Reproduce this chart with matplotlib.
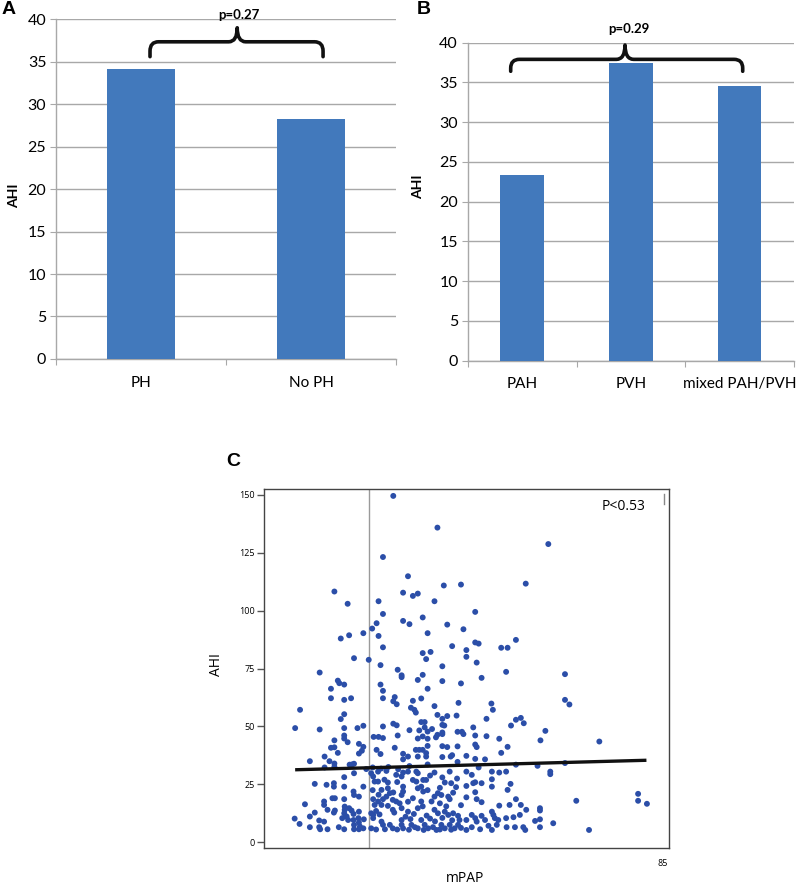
import matplotlib
matplotlib.use("Agg")
import matplotlib.pyplot as plt
from matplotlib.path import Path
from matplotlib.patches import PathPatch

# ---------------- data ----------------
a_categories = ["PH", "No PH"]
a_values = [34.1, 28.3]
a_pvalue = "p=0.27"

b_categories = ["PAH", "PVH", "mixed PAH/PVH"]
b_values = [23.3, 37.5, 34.6]
b_pvalue = "p=0.29"

bar_yticks = [0, 5, 10, 15, 20, 25, 30, 35, 40]

# scatter: (mPAP, AHI)
scatter_upper = [
    (30.0,149.6),(39.0,135.9),(61.6,128.8),(27.9,123.2),(33.0,114.9),(57.0,111.7),(43.8,111.3),(40.3,110.9),
    (18.0,108.3),(32.0,107.8),(35.0,107.4),(34.0,106.4),(27.0,104.1),(38.4,104.1),(20.7,103.0),(27.9,98.6),
    (46.7,99.5),(36.0,97.1),(32.0,95.6),(26.6,94.6),(33.3,94.2),(41.0,94.0),(25.7,92.3),(44.3,92.0),
    (23.9,90.3),(37.0,90.3),(21.0,89.4),(27.0,89.1),(19.3,88.0),(55.0,87.4),(46.7,86.3),(47.4,85.8),
    (42.0,84.7),(27.9,84.2),(52.0,84.0),(53.3,84.0),(44.9,83.0),(37.6,82.2),(36.0,81.7),(44.9,80.1),
    (22.0,79.5),(36.7,79.1),(25.0,78.8),(47.0,77.6),(27.4,76.5),(40.0,76.0),(30.9,74.5),(53.0,73.6),
    (15.0,73.3),(65.0,72.6),(31.7,72.1),(31.7,71.3),(36.0,72.3),(48.0,71.0),(35.0,70.1),(18.7,69.8),
    (19.0,68.7),(20.0,68.1),(40.0,69.6),(27.4,68.1),(43.8,68.6),(17.3,66.3),(37.0,66.3),(27.9,65.4),
    (17.3,62.2),(21.4,62.2),(27.9,62.2),(30.3,62.7),(35.7,62.1),(20.0,61.5),(65.0,61.5),(30.0,60.9),
    (34.0,61.1),(30.7,59.6),(43.3,60.2),(50.0,59.9),(65.9,59.5),(38.4,58.8),(33.6,58.1),(34.3,57.2),
    (11.0,57.2),(50.3,57.2),(34.6,56.0),(20.0,55.3),(39.0,55.0),(41.0,54.5),(42.9,54.7),(56.0,53.7),
    (19.3,53.2),(40.0,53.3),(49.0,53.3),(55.0,52.9),(35.7,51.9),(36.4,51.9),(56.6,51.4),(30.0,51.2),
    (30.7,50.5),(40.0,50.7),(40.4,50.4),(54.0,50.4),(27.9,50.0),(23.9,50.3),(10.0,49.3),(20.0,49.3),
    (22.7,49.3),(36.4,49.6),(46.3,49.6),(15.0,48.7),(37.9,48.9),(33.3,48.4),(35.3,48.3),(61.0,48.1),
    (43.1,47.7),(44.0,47.7),(37.0,47.8),(40.0,47.4),(40.0,46.7),(44.3,46.7),(39.0,46.4),(20.0,46.1),
    (46.7,46.1),(30.9,46.1),(49.0,45.8),(36.0,45.7),(26.0,45.5),(27.0,45.5),(27.9,45.0),(38.7,45.3),
    (20.0,44.8),(35.0,44.8),(37.0,44.7),(51.6,44.7),(18.0,44.0),(60.0,44.0),(72.0,43.5),(20.7,43.2),
    (23.0,42.5),(46.7,42.2),(37.0,41.6),(40.0,41.5),(41.0,41.1),(43.1,41.4),(47.0,41.1),(53.3,41.2),
    (17.3,40.8),(18.0,41.0),(23.9,41.2),(30.3,40.8),(26.6,39.9),(34.6,39.9),(35.3,39.9),(36.0,39.9),
    (23.6,39.5),(18.7,38.6),(23.0,38.3),(27.4,38.1),(32.0,38.2),(36.7,38.5),(52.0,38.6),(42.0,37.6),
    (41.7,37.0),(16.0,37.0),(33.0,37.0),(35.0,37.0),(36.7,37.0),(40.0,36.8),(44.9,37.3),(46.7,36.0),
    (48.7,35.8),(32.0,35.8),(13.0,35.0),(17.0,35.0),(43.1,34.7),(18.0,34.0),(37.0,33.6),(21.1,33.5),
    (21.6,33.6),(22.0,33.9),(55.0,33.5),(59.4,33.0),(65.0,34.2),(16.0,32.3),(18.0,32.6),(33.3,32.9),
    (47.4,32.3),(25.8,32.3),(27.5,31.8),(29.0,32.5),(31.0,31.5),(24.5,31.6),
]
scatter_left_low = [
    (22.0,29.8),(20.0,28.1),(14.0,25.2),(16.4,24.8),(17.9,25.5),(17.9,24.0),(20.0,24.0),(23.9,24.0),
    (21.9,21.9),(22.0,20.4),(23.0,19.7),(17.6,19.0),(18.1,19.0),(20.0,18.6),(15.9,17.6),(15.9,16.1),
    (12.0,16.4),(16.6,14.0),(18.1,13.7),(17.9,12.8),(20.1,15.4),(20.1,14.0),(20.0,12.5),(21.5,13.7),
    (21.9,12.2),(23.0,13.2),(14.0,12.8),(13.0,11.1),(9.9,10.2),(10.9,7.9),(14.9,9.4),(15.9,8.9),
    (13.0,6.5),(14.9,6.5),(15.1,5.6),(16.6,5.6),(18.9,6.5),(20.0,5.6),(19.6,10.4),(20.5,11.1),
    (20.8,9.6),(21.9,9.6),(22.0,7.5),(22.0,5.6),(22.9,10.4),(23.0,8.5),(23.2,6.8),(23.9,6.0),
    (23.0,5.6),(24.0,9.9),(21.0,14.7),
]
scatter_mid_low = [
    (25.5,29.8),(26.9,30.5),(28.6,30.8),(30.6,29.1),(32.0,30.1),(33.0,30.5),(34.7,30.5),(35.0,29.8),
    (38.4,30.1),(41.5,30.5),(44.9,30.5),(25.9,28.4),(26.2,26.2),(26.9,26.2),(28.9,25.8),(31.7,28.4),
    (34.0,26.9),(34.7,26.2),(36.1,26.9),(36.7,26.9),(35.7,24.0),(40.5,25.8),(41.8,25.5),(44.9,24.3),
    (27.6,22.6),(28.9,23.3),(29.3,21.2),(32.0,24.0),(32.0,21.9),(31.7,20.4),(35.0,23.3),(36.1,21.9),
    (39.1,21.2),(39.8,20.4),(41.2,19.7),(42.2,21.4),(38.4,19.7),(25.9,18.6),(26.9,17.6),(27.9,18.6),
    (28.6,19.7),(29.9,18.3),(30.6,17.6),(31.3,16.8),(26.2,16.1),(27.6,16.1),(28.9,15.7),(35.7,17.6),
    (37.8,17.6),(39.5,16.8),(41.5,18.6),(44.9,19.4),(29.9,14.0),(31.7,14.7),(33.0,13.2),(35.0,14.7),
    (38.4,14.0),(39.1,12.5),(40.5,13.2),(41.2,11.8),(42.2,12.5),(43.2,11.4),(25.5,12.5),(25.9,11.8),
    (27.6,8.9),(27.9,7.5),(29.3,7.5),(29.9,6.0),(31.7,9.6),(31.7,7.5),(32.0,6.0),(33.7,7.5),
    (34.4,6.5),(35.0,6.0),(35.7,9.6),(36.4,7.5),(37.1,6.0),(38.1,6.5),(38.8,5.3),(39.8,7.5),
    (40.5,6.0),(41.5,7.5),(42.5,6.0),(43.5,9.6),(43.2,7.5),(44.9,9.6),(44.9,5.3),(25.5,6.0),
    (25.9,10.4),(26.5,13.5),(27.2,12.0),(30.2,12.8),(32.5,11.0),(33.5,10.0),(34.2,12.2),(36.8,11.5),
    (37.5,10.2),(38.5,9.0),(40.0,10.5),(42.0,9.5),(36.0,15.5),(33.0,17.5),(30.0,21.5),(27.0,20.5),
    (25.8,22.5),(43.8,16.0),(40.8,15.5),(37.0,22.5),(34.0,19.0),(39.5,23.5),(42.8,23.8),(28.2,27.0),
    (30.8,26.0),(37.5,28.8),(40.0,28.0),(43.0,27.5),(26.5,5.5),(28.3,5.6),(30.8,5.5),(33.2,5.4),
    (36.2,5.3),(39.5,5.5),(41.8,5.4),(43.8,6.2),
]
scatter_right_low = [
    (46.0,29.1),(50.1,30.5),(51.6,30.1),(53.0,30.5),(62.0,30.5),(62.0,29.4),(50.1,27.2),(46.3,25.5),
    (46.7,25.9),(48.0,25.5),(50.1,24.0),(53.9,25.2),(53.3,22.6),(46.7,21.6),(47.0,18.6),(48.0,17.3),
    (55.0,18.6),(51.6,15.8),(53.7,16.1),(56.0,16.1),(57.1,14.0),(59.9,14.7),(59.9,13.7),(46.0,11.8),
    (46.7,10.4),(47.0,8.9),(48.0,11.4),(48.7,9.6),(50.1,13.2),(50.4,11.8),(50.7,10.4),(51.4,9.6),
    (53.0,10.4),(54.5,10.8),(55.8,11.8),(58.9,9.2),(59.9,9.9),(62.6,8.2),(46.0,6.5),(47.7,5.6),
    (49.4,7.1),(50.1,5.3),(51.1,7.5),(53.1,6.5),(54.8,6.5),(56.5,6.5),(56.9,5.3),(59.9,6.5),
    (67.3,17.9),(79.9,20.9),(79.9,17.9),(81.7,16.6),(69.9,5.3),
]
scatter_points = scatter_upper + scatter_left_low + scatter_mid_low + scatter_right_low
mpap = [p[0] for p in scatter_points]
ahi = [p[1] for p in scatter_points]

fit_mpap = [10.0, 81.6]
fit_ahi = [31.3, 35.4]
ph_threshold = 25
c_yticks = [0, 25, 50, 75, 100, 125, 150]
c_xticks = [85]
c_pvalue = "P<0.53"

# ---------------- style ----------------
BAR_COLOR = "#4279bc"
GRID = "#a8a8a8"
DOT = "#2b4ea8"
plt.rcParams["font.family"] = ["Lato", "DejaVu Sans"]

fig = plt.figure(figsize=(7.99, 8.85), dpi=100)


def brace(ax, x0, x1, xm, yh, ye, ytip, rx, ry, lw=2.6):
    verts = [(x0, ye), (x0, yh - ry), (x0, yh), (x0 + rx, yh),
             (xm - rx, yh), (xm, yh), (xm, ytip), (xm, yh), (xm + rx, yh),
             (x1 - rx, yh), (x1, yh), (x1, yh - ry), (x1, ye)]
    codes = [Path.MOVETO, Path.LINETO, Path.CURVE3, Path.CURVE3,
             Path.LINETO, Path.CURVE3, Path.CURVE3, Path.CURVE3, Path.CURVE3,
             Path.LINETO, Path.CURVE3, Path.CURVE3, Path.LINETO]
    patch = PathPatch(Path(verts, codes), fill=False, lw=lw, edgecolor="#111111",
                      clip_on=False, capstyle="round", joinstyle="round", zorder=5)
    ax.add_patch(patch)


def bar_panel(ax, cats, vals):
    n = len(cats)
    x = list(range(n))
    ax.bar(x, vals, width=0.4, color=BAR_COLOR, zorder=3)
    ax.set_xlim(-0.5, n - 0.5)
    ax.set_ylim(0, 40)
    ax.set_yticks(bar_yticks)
    ax.yaxis.grid(True, color=GRID, lw=1.0, zorder=0)
    for s in ["top", "right"]:
        ax.spines[s].set_visible(False)
    ax.spines["left"].set_color(GRID)
    ax.spines["bottom"].set_color(GRID)
    ax.spines["left"].set_linewidth(1.0)
    ax.spines["bottom"].set_linewidth(1.0)
    ax.set_xticks([i - 0.5 for i in range(n + 1)])
    ax.set_xticklabels([])
    ax.set_xticks(x, minor=True)
    ax.set_xticklabels(cats, minor=True, fontsize=11)
    ax.tick_params(axis="x", which="major", length=4, color=GRID, direction="out")
    ax.tick_params(axis="x", which="minor", length=0, pad=12)
    ax.tick_params(axis="y", length=4, color=GRID, labelsize=11.5, pad=3)
    ax.set_ylabel("AHI", fontsize=10, fontweight="bold")


# Panel A
axA = fig.add_axes([0.0701, 0.5944, 0.4255, 0.3838])
bar_panel(axA, a_categories, a_values)
axA.yaxis.set_label_coords(-0.105, 0.48)
brace(axA, 0.053, 1.071, 0.566, 37.35, 35.6, 39.0, 0.05, 1.1)
axA.text(0.576, 40.5, a_pvalue, ha="center", va="center", fontsize=9.5, fontweight="bold")
fig.text(0.0106, 0.9898, "A", fontsize=14, fontweight="bold", ha="center", va="center",
         family=["Liberation Sans", "DejaVu Sans"])

# Panel B
axB = fig.add_axes([0.5854, 0.5924, 0.4084, 0.3594])
bar_panel(axB, b_categories, b_values)
axB.yaxis.set_label_coords(-0.135, 0.547)
brace(axB, -0.105, 2.028, 0.946, 37.9, 36.4, 39.7, 0.08, 1.1)
axB.text(0.983, 41.75, b_pvalue, ha="center", va="center", fontsize=9.5, fontweight="bold")
fig.text(0.5307, 0.9898, "B", fontsize=14, fontweight="bold", ha="center", va="center",
         family=["Liberation Sans", "DejaVu Sans"])

# Panel C
axC = fig.add_axes([0.3304, 0.0418, 0.5069, 0.4057])
sfont = ["Open Sans", "DejaVu Sans"]
axC.scatter(mpap, ahi, s=18, color=DOT, edgecolors="none", zorder=3)
axC.plot(fit_mpap, fit_ahi, color="#111111", lw=2.4, zorder=4, solid_capstyle="butt")
axC.axvline(ph_threshold, color="#9a9a9a", lw=1.0, zorder=2)
axC.set_xlim(3.65, 86.2)
axC.set_ylim(-2.5, 152.6)
axC.set_yticks(c_yticks)
axC.set_xticks(c_xticks)
for lab in axC.get_yticklabels() + axC.get_xticklabels():
    lab.set_family(sfont)
axC.tick_params(axis="y", length=5, width=1, color="#555555", labelsize=6.5, pad=1.5)
axC.tick_params(axis="x", length=0, labelsize=6.5, pad=8)
for s in axC.spines.values():
    s.set_color("#444444")
    s.set_linewidth(1.0)
axC.text(0.889, 0.951, c_pvalue, transform=axC.transAxes, ha="center", va="center",
         fontsize=10, family=sfont)
axC.plot([0.988, 0.988], [0.958, 0.986], transform=axC.transAxes, color="#888888", lw=1)
axC.text(-0.118, 0.51, "AHI", transform=axC.transAxes, rotation=90, ha="center", va="center",
         fontsize=10, family=sfont)
axC.text(0.496, -0.0836, "mPAP", transform=axC.transAxes, ha="center", va="center",
         fontsize=10, family=sfont)
fig.text(0.2916, 0.478, "C", fontsize=14, fontweight="bold", ha="center", va="center",
         family=["Liberation Sans", "DejaVu Sans"])

fig.savefig("out.png", dpi=100)
